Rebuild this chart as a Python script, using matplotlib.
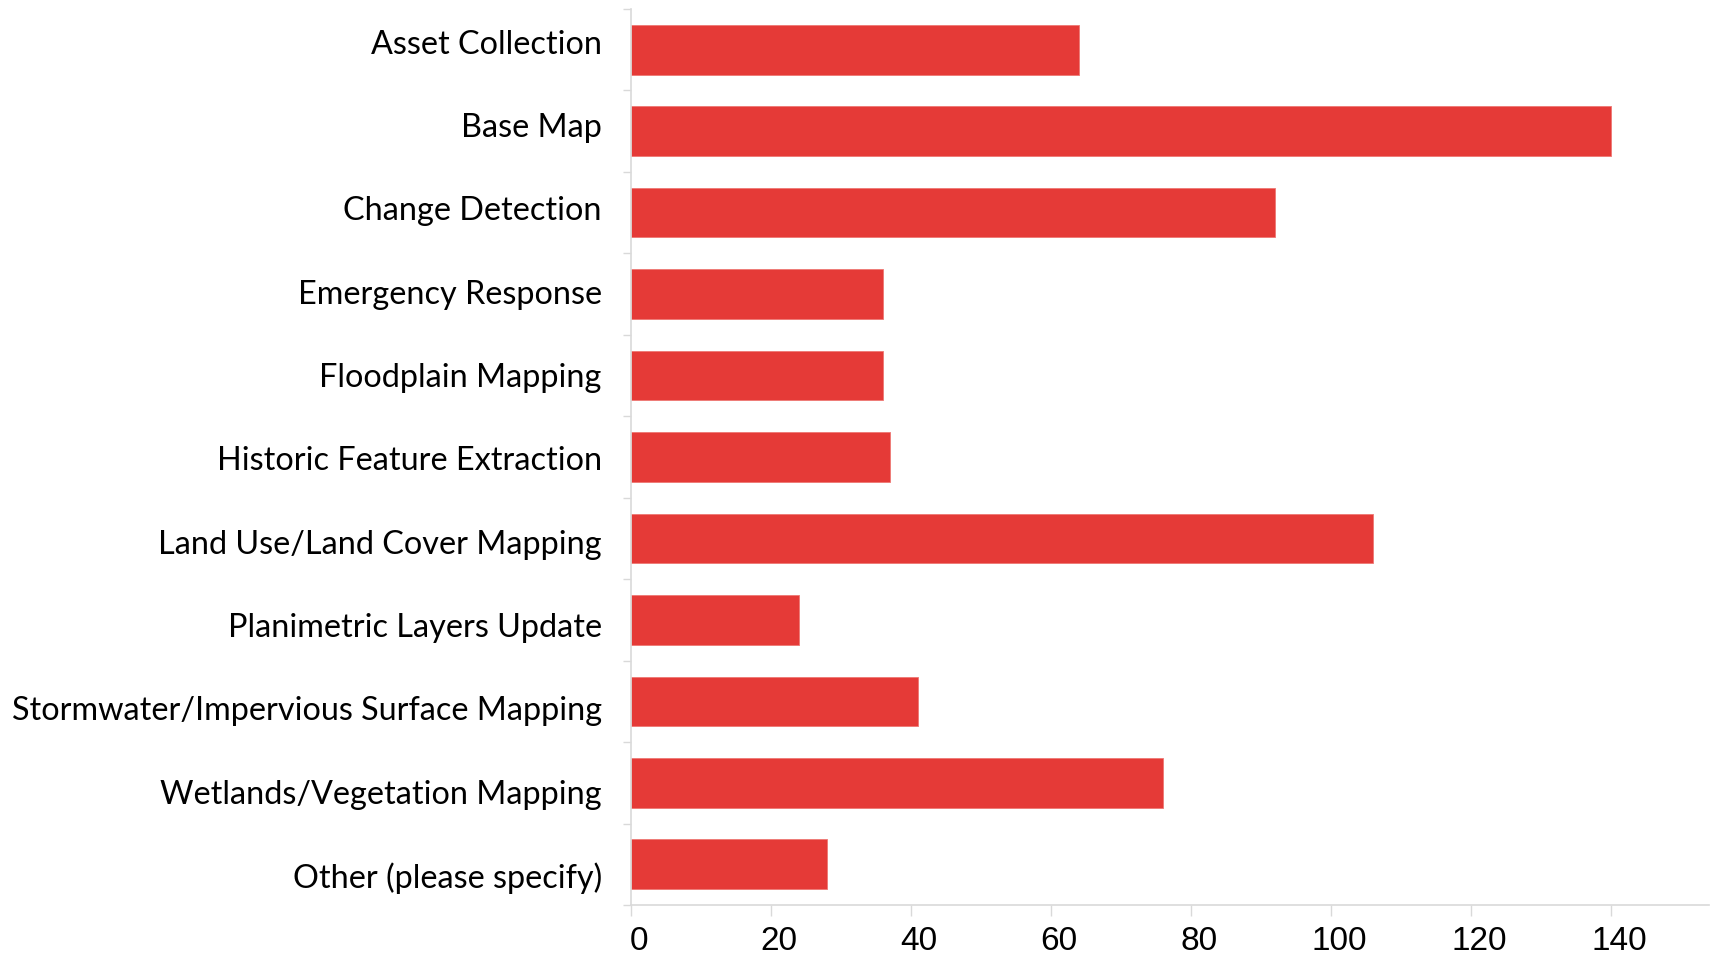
import matplotlib
matplotlib.use("Agg")
import matplotlib.pyplot as plt
import matplotlib.transforms as mtransforms
import numpy as np

categories = [
    "Asset Collection",
    "Base Map",
    "Change Detection",
    "Emergency Response",
    "Floodplain Mapping",
    "Historic Feature Extraction",
    "Land Use/Land Cover Mapping",
    "Planimetric Layers Update",
    "Stormwater/Impervious Surface Mapping",
    "Wetlands/Vegetation Mapping",
    "Other (please specify)",
]
values = [64, 140, 92, 36, 36, 37, 106, 24, 41, 76, 28]
xticks = [0, 20, 40, 60, 80, 100, 120, 140]

W, H = 1713, 956
fig = plt.figure(figsize=(W / 100, H / 100), dpi=100)
ax = fig.add_axes([631 / W, 1 - 905 / H, (1709 - 631) / W, (905 - 9) / H])

y = np.arange(len(categories))
ax.barh(y, values, height=0.61, color="#E53A37", edgecolor="#EE7773", linewidth=0.6)

ax.set_ylim(len(categories) - 0.5, -0.5)
ax.set_xlim(0, 154)

# category labels are spread slightly wider than the bar slots in the original
label_pos = y * 1.0227 - 0.097
ax.set_yticks(label_pos)
ax.set_yticklabels(categories, fontsize=23.3, family=["Lato", "DejaVu Sans"], color="black")
ax.tick_params(axis="y", which="major", length=0, pad=21)
ax.set_yticks(np.arange(len(categories) + 1) - 0.5, minor=True)
ax.tick_params(axis="y", which="minor", length=5.5, color="#d9d9d9", width=1.0)

ax.set_xticks(xticks)
ax.set_xticklabels([str(v) for v in xticks], fontsize=24,
                   family=["Liberation Sans Narrow", "Liberation Sans", "DejaVu Sans"], color="black")
ax.tick_params(axis="x", which="major", length=8, color="#d9d9d9", width=1.0, pad=7)
offset = mtransforms.ScaledTranslation(8 / 100, 0, fig.dpi_scale_trans)
for lab in ax.get_xticklabels():
    lab.set_transform(lab.get_transform() + offset)

for s in ["top", "right"]:
    ax.spines[s].set_visible(False)
for s in ["left", "bottom"]:
    ax.spines[s].set_color("#d9d9d9")
    ax.spines[s].set_linewidth(1.2)

fig.savefig("out.png", dpi=100)
